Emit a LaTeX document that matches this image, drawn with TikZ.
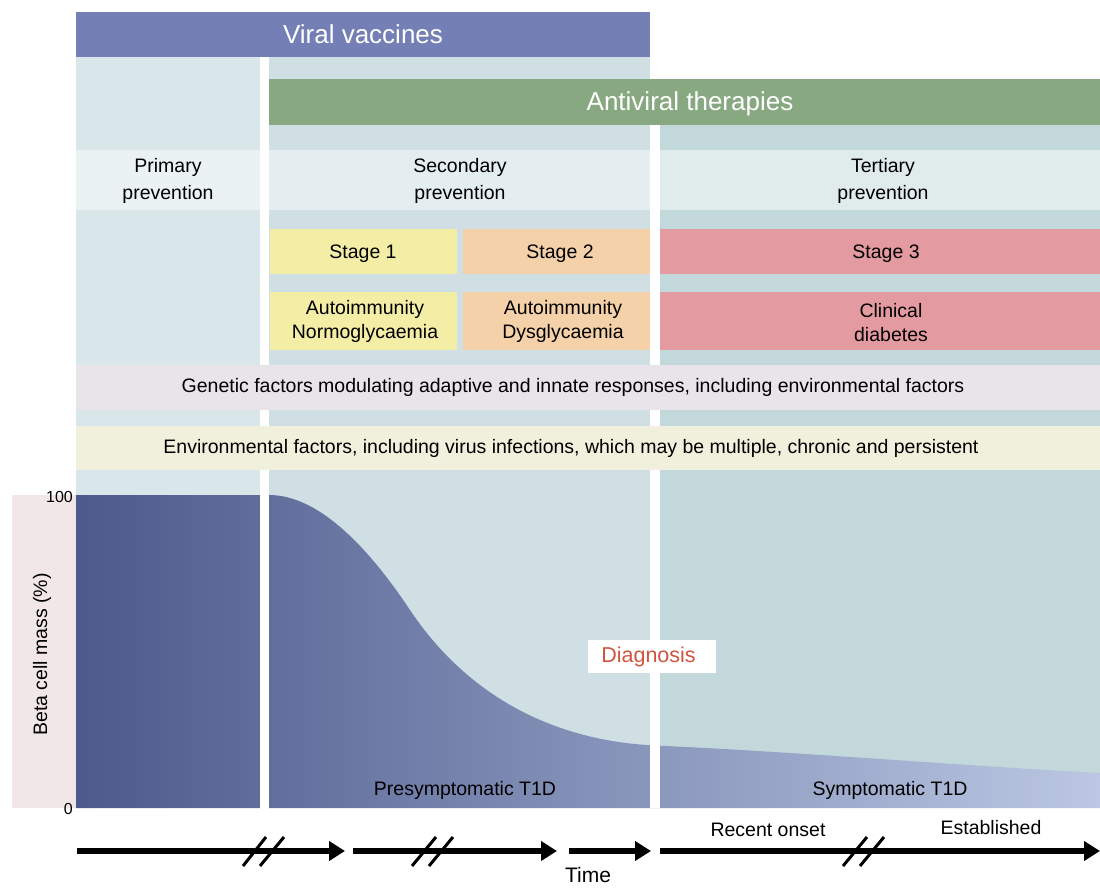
\documentclass[tikz,border=0pt]{standalone}
\usepackage{fontspec}
\setmainfont{Liberation Sans}
\usetikzlibrary{arrows.meta}
\definecolor{vvblue}{HTML}{737FB5}
\definecolor{avgreen}{HTML}{87A880}
\definecolor{bgprim}{HTML}{D9E6EA}
\definecolor{bgsec}{HTML}{D0DFE3}
\definecolor{bgter}{HTML}{C2D8DA}
\definecolor{pvprim}{HTML}{EAF2F4}
\definecolor{pvsec}{HTML}{E4EDEF}
\definecolor{pvter}{HTML}{E0ECEC}
\definecolor{st1}{HTML}{F3EDA6}
\definecolor{st2}{HTML}{F4D1A9}
\definecolor{st3}{HTML}{E49AA1}
\definecolor{genband}{HTML}{E9E3EA}
\definecolor{envband}{HTML}{F1F0DC}
\definecolor{axbox}{HTML}{F2E7E7}
\definecolor{massL}{HTML}{4C5A8C}
\definecolor{massR}{HTML}{BBC7E3}
\definecolor{diagred}{HTML}{D0553F}
\begin{document}
\begin{tikzpicture}[x=1pt,y=-1pt,
  txt/.style={font=\fontsize{19.5}{24}\selectfont, align=center, inner sep=0pt, text=black, yshift=-2.5pt},
  pvtxt/.style={font=\fontsize{19.5}{27}\selectfont, align=center, inner sep=0pt, text=black, yshift=-2pt},
  titlebar/.style={font=\fontsize{26}{30}\selectfont, text=white, inner sep=0pt, minimum height=46pt},
  cell/.style={inner sep=0pt, draw=none},
  timearrow/.style={line width=6pt, -{Triangle[length=16pt,width=19pt]}},
  slash/.style={line width=3pt}]
\useasboundingbox (0,0) rectangle (1100,889);

% column backgrounds
\fill[bgprim] (76,57) rectangle (260,495);
\fill[bgsec] (269,57) rectangle (650,808);
\fill[bgter] (660,125) rectangle (1100,808);

% title bars
\node[titlebar, fill=vvblue, minimum width=574pt, minimum height=45pt] (vv) at (363,34.5) {Viral vaccines};
\node[titlebar, fill=avgreen, minimum width=831pt] (av) at (684.5,102) {};
\node[titlebar, yshift=-2pt] (avtxt) at (690,102) {Antiviral therapies};

% prevention bands
\node[cell, fill=pvprim, minimum width=184pt, minimum height=60pt] (pp) at (168,180) {};
\node[cell, fill=pvsec, minimum width=381pt, minimum height=60pt] (sp) at (459.5,180) {};
\node[cell, fill=pvter, minimum width=440pt, minimum height=60pt] (tp) at (880,180) {};

% stage boxes
\node[cell, fill=st1, minimum width=187pt, minimum height=45pt] (s1) at (363.5,251.5) {};
\node[cell, fill=st2, minimum width=187pt, minimum height=45pt] (s2) at (556.5,251.5) {};
\node[cell, fill=st3, minimum width=440pt, minimum height=45pt] (s3) at (880,251.5) {};
\node[cell, fill=st1, minimum width=187pt, minimum height=58pt] (a1) at (363.5,321) {};
\node[cell, fill=st2, minimum width=187pt, minimum height=58pt] (a2) at (556.5,321) {};
\node[cell, fill=st3, minimum width=440pt, minimum height=58pt] (cd) at (880,321) {};

% axis box
\fill[axbox] (12,495) rectangle (76,808);

% beta cell mass
\begin{scope}
\clip (76,495) rectangle (260,808)
  (269,808) -- (269,495) .. controls (320,495) and (370,550) .. (410,610)
  .. controls (460,685) and (540,740) .. (655,745.5)
  .. controls (800,752) and (950,765) .. (1100,773) -- (1100,808) -- cycle;
\shade[left color=massL, right color=massR] (76,495) rectangle (1100,808);
\end{scope}

% white separators
\fill[white] (260,57) rectangle (269,808);
\fill[white] (650,125) rectangle (660,808);

% factor bands (over the separators)
\node[cell, fill=genband, minimum width=1024pt, minimum height=45pt] (gen) at (588,387.5) {};
\node[cell, fill=envband, minimum width=1024pt, minimum height=44pt] (env) at (588,448) {};

% texts
\node[pvtxt] (pptxt) at (168,179) {Primary\\prevention};
\node[pvtxt] (sptxt) at (460,179) {Secondary\\prevention};
\node[pvtxt] (tptxt) at (883,179) {Tertiary\\prevention};
\node[txt] (s1t) at (363,251) {Stage 1};
\node[txt] (s2t) at (560,251) {Stage 2};
\node[txt] (s3t) at (886,251) {Stage 3};
\node[txt] (a1t) at (365,319) {Autoimmunity\\Normoglycaemia};
\node[txt] (a2t) at (563,319) {Autoimmunity\\Dysglycaemia};
\node[txt] (cdt) at (891,320) {Clinical\\diabetes};
\node[txt] (gent) at (573,385) {Genetic factors modulating adaptive and innate responses, including environmental factors};
\node[txt] (envt) at (571,446) {Environmental factors, including virus infections, which may be multiple, chronic and persistent};

% axis labels
\node[anchor=east, inner sep=0pt, font=\fontsize{16}{16}\selectfont] (y100) at (73,497) {100};
\node[anchor=east, inner sep=0pt, font=\fontsize{16}{16}\selectfont] (y0) at (73,809) {0};
\node[txt, rotate=90, yshift=0pt] (ylab) at (42,652) {Beta cell mass (\%)};

\node[txt] (pre) at (465,788) {Presymptomatic T1D};
\node[txt] (sym) at (890,788) {Symptomatic T1D};

% diagnosis
\node[fill=white, inner sep=0pt, minimum width=128pt, minimum height=33pt, text=diagred, font=\fontsize{21.5}{22}\selectfont] (diag) at (652,656.5) {\hspace*{-7pt}Diagnosis};

% time axis
\coordinate (t1s) at (77,851); \coordinate (t1e) at (345,851);
\coordinate (t2s) at (353,851); \coordinate (t2e) at (557,851);
\coordinate (t3s) at (569,851); \coordinate (t3e) at (651,851);
\coordinate (t4s) at (660,851); \coordinate (t4e) at (1100,851);
\draw[timearrow] (t1s) -- (t1e);
\draw[timearrow] (t2s) -- (t2e);
\draw[timearrow] (t3s) -- (t3e);
\draw[timearrow] (t4s) -- (t4e);
\draw[slash] (243,866) -- (266,837);
\draw[slash] (260,866) -- (284,837);
\draw[slash] (412,866) -- (436,837);
\draw[slash] (429,866) -- (453,837);
\draw[slash] (843,866) -- (867,837);
\draw[slash] (860,866) -- (884,837);

\node[txt] (ro) at (768,827) {Recent onset};
\node[txt] (est) at (991,825) {Established};
\node[inner sep=0pt, font=\fontsize{21}{21}\selectfont] (time) at (588,875) {Time};
\end{tikzpicture}
\end{document}
